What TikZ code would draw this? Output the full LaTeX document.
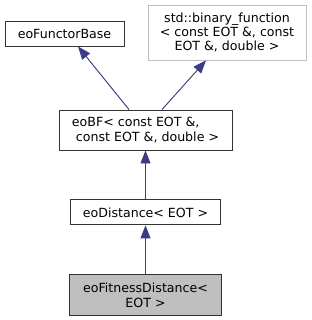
\documentclass[tikz,border=0pt]{standalone}
\usepackage{fontspec}
\setmainfont{DejaVu Sans}
\usepackage{tikz}
\usetikzlibrary{arrows.meta,positioning}
\usepackage{xcolor}
\definecolor{edgeblue}{HTML}{191970}
\definecolor{boxgray}{HTML}{BFBFBF}
\tikzset{
  classbox/.style={draw=black!80, line width=0.9pt, align=center, inner sep=2pt, minimum height=25pt, font=\fontsize{12.6}{14.3}\selectfont},
  extbox/.style={classbox, draw=boxgray},
  curbox/.style={classbox, fill=boxgray},
  inherit/.style={{Triangle[length=13pt,width=10pt]}-, line width=0.9pt, draw=edgeblue!85, fill=edgeblue}
}

\begin{document}
\begin{tikzpicture}[x=1pt, y=-1pt, node distance=49pt]
\useasboundingbox (0,0) rectangle (312,320);
\node[classbox, minimum width=119pt] (base) at (64.5,33.5) {eoFunctorBase};
\node[extbox, minimum width=158pt, minimum height=55pt] (binfn) at (227,32.5) {std::binary\_function\\< const EOT \&, const\\EOT \&, double >};
\node[classbox, minimum width=173pt, minimum height=40pt, align=left] (bf) at (145.5,130) {eoBF< const EOT \&,\\\hspace{0.32em}const EOT \&, double >};
\node[classbox, minimum width=150pt, below=of bf] (dist) {eoDistance< EOT >};
\node[curbox, minimum width=152pt, minimum height=41pt, below=of dist] (fitdist) {eoFitnessDistance<\\EOT >};
\draw[inherit] ([xshift=13.5pt]base.south) -- ([xshift=-16.5pt]bf.north);
\draw[inherit] ([xshift=-21pt]binfn.south) -- ([xshift=16.5pt]bf.north);
\draw[inherit] (bf) -- (dist);
\draw[inherit] (dist) -- (fitdist);
\end{tikzpicture}
\end{document}
